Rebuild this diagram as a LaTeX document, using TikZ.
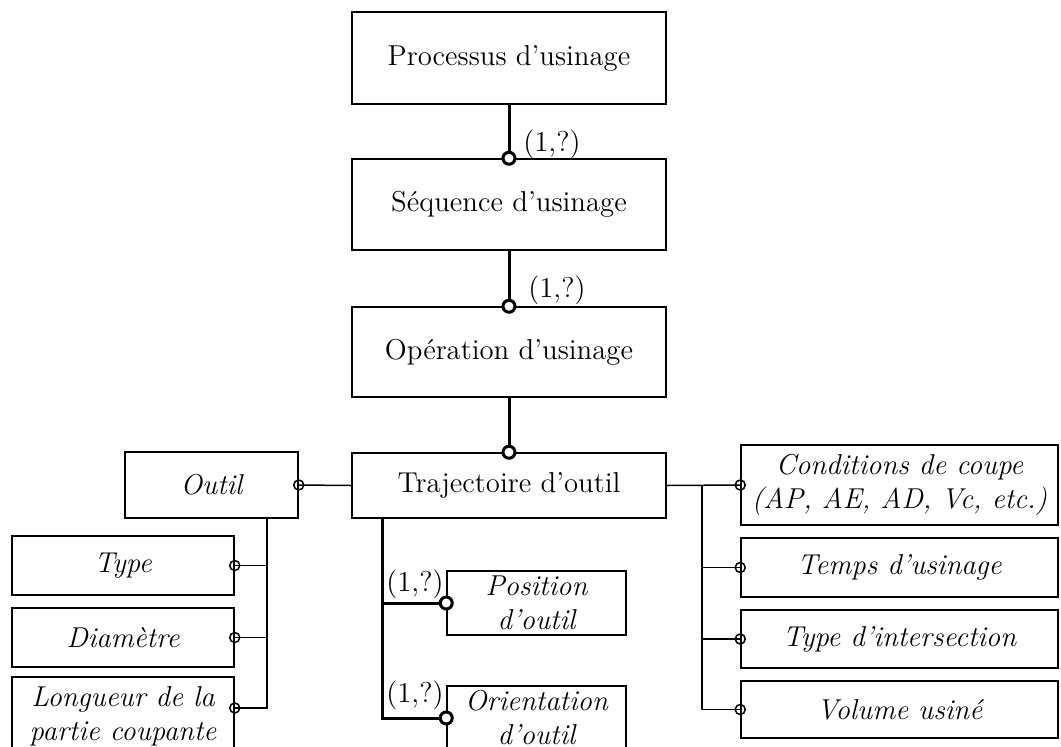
\documentclass[tikz,border=0pt]{standalone}
\begin{document}
\begin{tikzpicture}[x=0.4pt,y=-0.4pt,
  every node/.style={font=\fontsize{11.5}{13.6}\selectfont},
  box/.style={draw, line width=0.6pt, inner sep=1pt, align=center},
  ibox/.style={box, font=\fontsize{11.5}{13.6}\selectfont\itshape},
  thin link/.style={line width=0.6pt},
  thick link/.style={line width=1.2pt},
  smallcirc/.style={line width=0.6pt},
  bigcirc/.style={line width=1.2pt, fill=white},
  lbl/.style={inner sep=0pt}]
\useasboundingbox (0,0) rectangle (1061,747);
\clip (0,0) rectangle (1061,747);
% main chain
\node[box, minimum width=125.6pt, minimum height=36.8pt] (proc) at (509,58) {Processus d'usinage};
\node[box, minimum width=125.6pt, minimum height=36.4pt] (seq) at (509,204.5) {Séquence d'usinage};
\node[box, minimum width=125.6pt, minimum height=36pt] (op) at (509,352) {Opération d'usinage};
\node[box, minimum width=125.6pt, minimum height=26pt] (traj) at (509,485.5) {Trajectoire d'outil};
% left side
\node[ibox, minimum width=69.2pt, minimum height=26.4pt] (outil) at (211.5,485) {Outil};
\node[ibox, minimum width=88.8pt, minimum height=23.6pt] (type) at (123,565.5) {Type};
\node[ibox, minimum width=88.8pt, minimum height=23.6pt] (diam) at (123,637.5) {Diamètre};
\node[ibox, minimum width=88.8pt, minimum height=31.2pt] (long) at (123,716) {Longueur de la\\partie coupante};
% middle
\node[ibox, minimum width=71.6pt, minimum height=25.6pt] (pos) at (536.5,603) {Position\\d'outil};
\node[ibox, minimum width=71.6pt, minimum height=25.6pt] (orient) at (536.5,718) {Orientation\\d'outil};
% right side
\node[ibox, minimum width=126.8pt, minimum height=32pt] (cond) at (899.5,485) {Conditions de coupe\\(AP, AE, AD, Vc, etc.)};
\node[ibox, minimum width=126.8pt, minimum height=23.6pt] (temps) at (899.5,567.5) {Temps d'usinage};
\node[ibox, minimum width=126.8pt, minimum height=23.2pt] (inter) at (899.5,639) {Type d'intersection};
\node[ibox, minimum width=126.8pt, minimum height=22.8pt] (vol) at (899.5,709.5) {Volume usiné};
% trunk coordinates
\coordinate (lt) at (267,708);
\coordinate (rt) at (702,708);
\coordinate (mt) at (382,720);
% thick chain links
\draw[thick link] (proc.south) -- (seq.north);
\draw[thick link] (seq.south) -- (op.north);
\draw[thick link] (op.south) -- (traj.north);
% left tree
\draw[thin link] (traj.west) -- (outil.east);
\draw[thin link] (outil.south -| lt) -- (lt) -- (long.east |- lt);
\draw[thin link] (lt |- type.east) -- (type.east);
\draw[thin link] (lt |- diam.east) -- (diam.east);
% right tree
\draw[thin link] (traj.east) -- (cond.west);
\draw[thin link] (rt |- traj.east) -- (rt |- vol.west) -- (vol.west);
\draw[thin link] (rt |- temps.west) -- (temps.west);
\draw[thin link] (rt |- inter.west) -- (inter.west);
% middle tree
\draw[thick link] (traj.south -| mt) -- (mt |- orient.west) -- (orient.west);
\draw[thick link] (mt |- pos.west) -- (pos.west);
% circles
\draw[bigcirc] (seq.north) circle[radius=2.4pt];
\draw[bigcirc] (op.north) circle[radius=2.4pt];
\draw[bigcirc] (traj.north) circle[radius=2.4pt];
\draw[bigcirc] (pos.west) circle[radius=2.4pt];
\draw[bigcirc] (orient.west) circle[radius=2.4pt];
\draw[smallcirc] (outil.east) circle[radius=2pt];
\draw[smallcirc] (type.east) circle[radius=2pt];
\draw[smallcirc] (diam.east) circle[radius=2pt];
\draw[smallcirc] (long.east |- lt) circle[radius=2pt];
\draw[smallcirc] (cond.west) circle[radius=2pt];
\draw[smallcirc] (temps.west) circle[radius=2pt];
\draw[smallcirc] (inter.west) circle[radius=2pt];
\draw[smallcirc] (vol.west) circle[radius=2pt];
% cardinality labels
\node[lbl] (c1) at (552,144) {(1,?)};
\node[lbl] (c2) at (557,290) {(1,?)};
\node[lbl] (c3) at (415,584) {(1,?)};
\node[lbl] (c4) at (415,695) {(1,?)};
\end{tikzpicture}
\end{document}
